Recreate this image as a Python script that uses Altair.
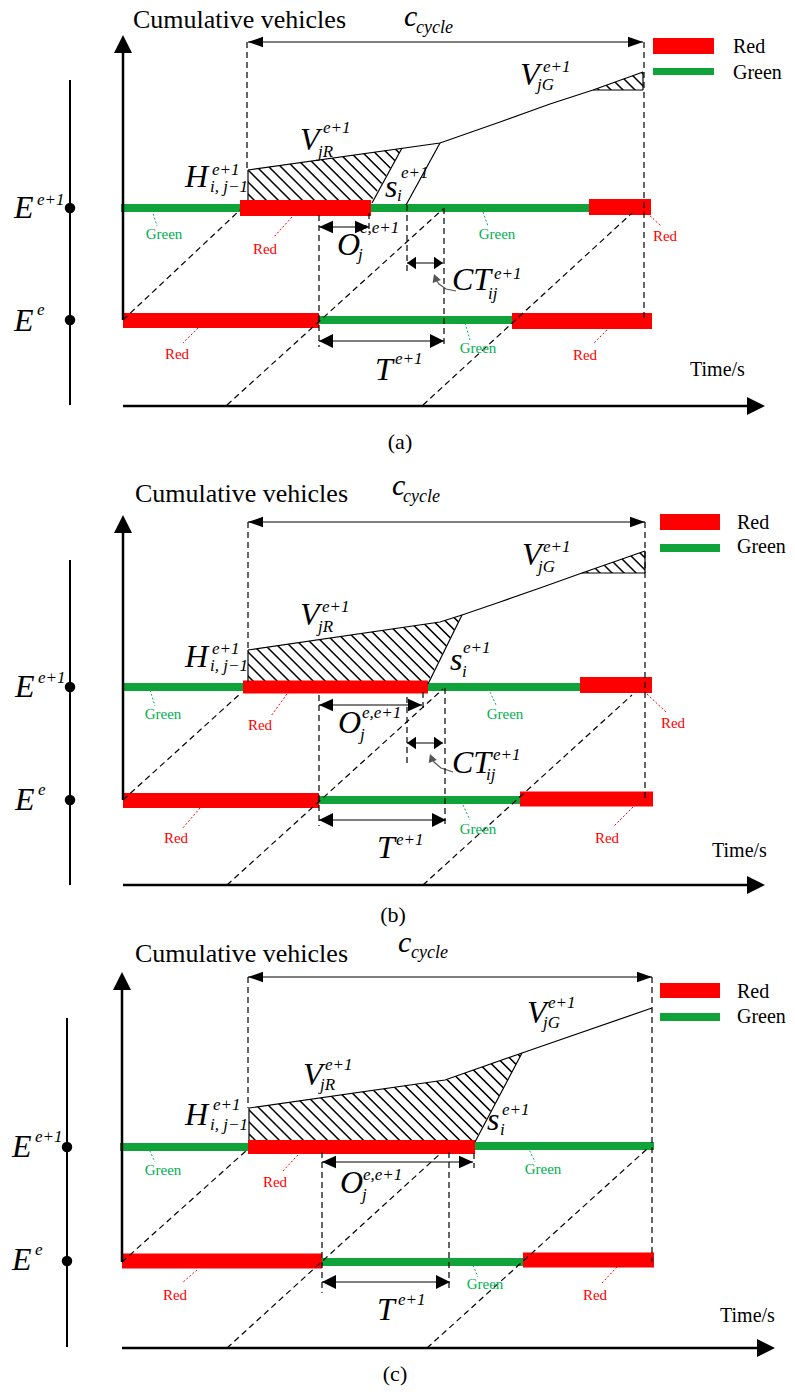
import altair as alt
import pandas as pd

RED = "#FF0000"
GBAR = "#0FA339"
GTXT = "#00B050"
SERIF = "Liberation Serif"

# ---------------- signal bars: (x_start, x_end, y_center, thickness, colour) -------------
BARS_A = [(121, 240, 208, 8, GBAR), (240, 371, 208, 16, RED), (371, 589, 208, 8, GBAR),
          (589, 651, 207, 16, RED), (123, 319, 320.5, 15, RED), (319, 512, 320, 8, GBAR),
          (512, 652, 321, 16, RED)]
BARS_B = [(123, 243, 687, 8, GBAR), (243, 428, 687, 13, RED), (428, 580, 687, 8, GBAR),
          (580, 652, 685, 16, RED), (123, 319, 800.5, 15, RED), (319, 520, 800, 8, GBAR),
          (520, 653, 799, 15, RED)]
BARS_C = [(120, 248, 1147, 8, GBAR), (248, 475, 1147, 14, RED), (475, 654, 1146, 8, GBAR),
          (122, 322, 1261, 15, RED), (322, 523, 1262, 8, GBAR), (523, 654, 1260, 15, RED)]
LEGEND_BARS = [(653, 714, 46, 16, RED), (653, 714, 71.5, 7, GBAR),
               (660, 720, 522, 16, RED), (660, 720, 548, 8, GBAR),
               (660, 720, 990.5, 15, RED), (660, 720, 1017, 8, GBAR)]

# ---------------- solid segments: (x1, y1, x2, y2, width) ----------------
SOLID_A = [(123, 320, 123, 45, 2.5), (123, 406, 755, 406, 2.5), (70, 80, 70, 405, 2),
           (248, 42, 643, 42, 1.2), (319, 227, 369, 227, 1.2), (407, 263, 443, 263, 1.2),
           (319, 341, 444, 341, 1.2), (248, 170, 248, 200, 1.2), (402, 148, 372, 203, 1.2),
           (440, 143, 406, 205, 1.2), (593, 90, 643, 90, 1.2), (643, 72, 643, 90, 1.2)]
SOLID_B = [(123, 800, 123, 525, 2.5), (123, 885, 755, 885, 2.5), (70, 560, 70, 885, 2),
           (248, 522, 645, 522, 1.2), (319, 705, 422, 705, 1.2), (407, 743, 443, 743, 1.2),
           (319, 820, 446, 820, 1.2), (248, 650, 248, 682, 1.2), (462, 615, 428, 684, 1.2),
           (582, 573, 645, 573, 1.2), (645, 551, 645, 573, 1.2)]
SOLID_C = [(122, 1262, 122, 982, 2.5), (122, 1348, 765, 1348, 2.5), (67, 1018, 67, 1347, 2),
           (248, 977, 652, 977, 1.2), (322, 1162, 473, 1162, 1.2), (322, 1282, 450, 1282, 1.2),
           (249, 1108, 249, 1140, 1.2), (522, 1053, 475, 1142, 1.2)]

# ---------------- dashed black segments ----------------
DASH_A = [(247, 42, 247, 170), (644, 42, 644, 320), (319, 215, 319, 347), (369, 213, 369, 232),
          (407, 205, 407, 275), (444, 208, 444, 347), (123, 320, 240, 210),
          (227, 405, 443, 209), (423, 405, 632, 213)]
DASH_B = [(248, 522, 248, 650), (645, 522, 645, 800), (319, 695, 319, 826), (423, 692, 423, 712),
          (407, 697, 407, 765), (445, 688, 445, 826), (123, 800, 241, 693),
          (227, 885, 443, 689), (423, 885, 632, 695)]
DASH_C = [(248, 977, 248, 1108), (652, 977, 652, 1262), (322, 1152, 322, 1293),
          (474, 1153, 474, 1168), (449, 1152, 449, 1292), (122, 1262, 247, 1150),
          (227, 1348, 441, 1153), (427, 1348, 647, 1149)]

# ---------------- coloured leader lines (x1, y1, x2, y2, colour) ----------------
LEADERS = [(152, 210, 157, 226, GTXT), (292, 217, 273, 238, RED), (483, 212, 488, 226, GTXT),
           (647, 213, 661, 226, RED), (198, 328, 183, 343, RED), (465, 323, 470, 340, GTXT),
           (607, 330, 593, 344, RED),
           (150, 690, 155, 706, GTXT), (287, 694, 271, 716, RED), (490, 692, 496, 705, GTXT),
           (647, 694, 667, 713, RED), (200, 808, 182, 829, RED), (463, 805, 470, 820, GTXT),
           (633, 807, 613, 827, RED),
           (148, 1147, 155, 1162, GTXT), (298, 1155, 282, 1172, RED), (528, 1147, 535, 1162, GTXT),
           (197, 1270, 182, 1283, RED), (470, 1258, 478, 1277, GTXT), (617, 1267, 602, 1283, RED)]

# ---------------- cumulative curves (polylines) ----------------
CURVE_A = [(248, 170), (440, 143), (500, 122), (550, 104), (593, 90), (643, 72)]
CURVE_B = [(248, 650), (440, 622), (462, 615), (500, 602), (540, 588), (582, 573), (645, 551)]
CURVE_C = [(249, 1108), (445, 1080), (522, 1053), (652, 1008)]
GRAY_A = [(456, 291), (446, 289), (439, 284), (435, 278)]
GRAY_B = [(453, 772), (441, 768), (434, 762), (431, 757)]

# ---------------- hatched regions: (x, y_top, y_bottom) ----------------
HATCH_A1 = [(248, 170, 200), (372, 152.6, 200), (402, 148.3, 148.3)]
HATCH_A2 = [(593, 90, 90), (643, 72, 90)]
HATCH_B1 = [(248, 650, 682), (428, 623.8, 682), (440, 622, 658.4), (462, 615, 615)]
HATCH_B2 = [(582, 573, 573), (645, 551, 573)]
HATCH_C1 = [(249, 1108, 1140), (445, 1080, 1140), (475, 1069.5, 1140), (522, 1053, 1053)]

# ---------------- arrow heads: (tip_x, tip_y, angle, length, width_ratio, colour) ---------
HEADS = [(123, 35, 270, 18, 1.0, "black"), (765, 406, 0, 18, 1.0, "black"),
         (248, 42, 180, 15, 0.7, "black"), (643, 42, 0, 15, 0.7, "black"),
         (319, 227, 180, 14, 0.9, "black"), (369, 227, 0, 14, 0.9, "black"),
         (407, 263, 180, 9, 1.4, "black"), (443, 263, 0, 9, 1.4, "black"),
         (319, 341, 180, 14, 1.0, "black"), (444, 341, 0, 14, 1.0, "black"),
         (434, 274, 250, 8, 1.1, "#555555"),
         (123, 515, 270, 18, 1.0, "black"), (765, 885, 0, 18, 1.0, "black"),
         (248, 522, 180, 15, 0.7, "black"), (645, 522, 0, 15, 0.7, "black"),
         (319, 705, 180, 14, 0.9, "black"), (422, 705, 0, 14, 0.9, "black"),
         (407, 743, 180, 9, 1.4, "black"), (443, 743, 0, 9, 1.4, "black"),
         (319, 820, 180, 14, 1.0, "black"), (446, 820, 0, 14, 1.0, "black"),
         (430, 754, 250, 8, 1.1, "#555555"),
         (122, 972, 270, 18, 1.0, "black"), (775, 1348, 0, 18, 1.0, "black"),
         (248, 977, 180, 15, 0.7, "black"), (652, 977, 0, 15, 0.7, "black"),
         (322, 1162, 180, 14, 0.9, "black"), (473, 1162, 0, 14, 0.9, "black"),
         (322, 1282, 180, 14, 1.0, "black"), (450, 1282, 0, 14, 1.0, "black")]

DOTS = [(70, 208), (70, 320), (70, 687), (70, 800), (67, 1147), (67, 1261)]

# ---------------- texts ----------------
# upright, left aligned: (text, x, baseline, size)
TEXT_UP = [("Cumulative vehicles", 133, 28, 26), ("Cumulative vehicles", 135, 502, 26),
           ("Cumulative vehicles", 135, 962, 26),
           ("Red", 733, 53, 20), ("Green", 733, 79, 20), ("Red", 737, 529, 20),
           ("Green", 737, 553, 20), ("Red", 737, 998, 20), ("Green", 737, 1023, 20),
           ("Time/s", 690, 376, 20), ("Time/s", 712, 857, 20), ("Time/s", 720, 1322, 20)]
# upright, centred: (text, x, baseline, size, colour)
TEXT_CENTER = [("(a)", 400, 449, 22, "black"), ("(b)", 393, 922, 22, "black"),
               ("(c)", 395, 1381, 22, "black"),
               ("Green", 164, 239, 15, GTXT), ("Red", 265, 254, 15, RED),
               ("Green", 497, 239, 15, GTXT), ("Red", 665, 241, 15, RED),
               ("Red", 177, 359, 15, RED), ("Green", 478, 353, 15, GTXT), ("Red", 585, 360, 15, RED),
               ("Green", 163, 719, 15, GTXT), ("Red", 260, 730, 15, RED),
               ("Green", 505, 719, 15, GTXT), ("Red", 673, 728, 15, RED),
               ("Red", 176, 843, 15, RED), ("Green", 478, 834, 15, GTXT), ("Red", 607, 843, 15, RED),
               ("Green", 163, 1175, 15, GTXT), ("Red", 275, 1187, 15, RED),
               ("Green", 543, 1174, 15, GTXT), ("Red", 175, 1300, 15, RED),
               ("Green", 485, 1289, 15, GTXT), ("Red", 595, 1300, 15, RED)]
# italic math pieces: (text, x, baseline, size)
BIG = 32
SM = 17
MATH_A = [("E", 14, 218, BIG), ("e+1", 37, 205, SM), ("E", 14, 331, BIG), ("e", 37, 315, SM),
          ("H", 185, 187, BIG), ("e+1", 212, 175, SM), ("i, j\u22121", 210, 192, SM),
          ("V", 300, 150, BIG), ("e+1", 323, 133, SM), ("jR", 318, 157, SM),
          ("s", 385, 197, BIG), ("e+1", 401, 178, SM), ("i", 397, 201, SM),
          ("V", 520, 85, BIG), ("e+1", 543, 72, SM), ("jG", 537, 90, SM),
          ("O", 337, 255, BIG), ("e,e+1", 360, 233, SM), ("j", 358, 260, SM),
          ("CT", 452, 290, BIG), ("e+1", 494, 279, SM), ("ij", 488, 299, SM),
          ("T", 375, 380, BIG), ("e+1", 395, 364, SM),
          ("c", 404, 26, 30), ("cycle", 416, 33, 18)]
MATH_B = [("E", 15, 697, BIG), ("e+1", 38, 683, SM), ("E", 15, 810, BIG), ("e", 38, 795, SM),
          ("H", 185, 667, BIG), ("e+1", 212, 654, SM), ("i, j\u22121", 210, 671, SM),
          ("V", 300, 625, BIG), ("e+1", 322, 612, SM), ("jR", 318, 632, SM),
          ("s", 450, 670, BIG), ("e+1", 463, 653, SM), ("i", 462, 677, SM),
          ("V", 522, 565, BIG), ("e+1", 543, 552, SM), ("jG", 538, 572, SM),
          ("O", 338, 733, BIG), ("e,e+1", 362, 718, SM), ("j", 360, 740, SM),
          ("CT", 452, 773, BIG), ("e+1", 493, 760, SM), ("ij", 486, 780, SM),
          ("T", 377, 858, BIG), ("e+1", 396, 845, SM),
          ("c", 392, 495, 30), ("cycle", 403, 502, 18)]
MATH_C = [("E", 12, 1157, BIG), ("e+1", 35, 1142, SM), ("E", 12, 1270, BIG), ("e", 35, 1255, SM),
          ("H", 185, 1125, BIG), ("e+1", 213, 1110, SM), ("i, j\u22121", 210, 1130, SM),
          ("V", 303, 1085, BIG), ("e+1", 325, 1070, SM), ("jR", 320, 1090, SM),
          ("s", 487, 1130, BIG), ("e+1", 502, 1115, SM), ("i", 500, 1135, SM),
          ("V", 527, 1023, BIG), ("e+1", 548, 1008, SM), ("jG", 543, 1028, SM),
          ("O", 340, 1193, BIG), ("e,e+1", 363, 1180, SM), ("j", 362, 1200, SM),
          ("T", 377, 1320, BIG), ("e+1", 398, 1305, SM),
          ("c", 398, 952, 30), ("cycle", 411, 958, 18)]

# ======================= build chart =======================
xs = alt.Scale(domain=[8, 787], nice=False, zero=False)
ys = alt.Scale(domain=[8, 1387], nice=False, zero=False, reverse=True)


def X(f="x"):
    return alt.X(f"{f}:Q", scale=xs, axis=None)


def Y(f="y"):
    return alt.Y(f"{f}:Q", scale=ys, axis=None)


layers = []


def hatch_gradient(pts, spacing=8.5):
    xv = [p[0] for p in pts]
    yv = [p[1] for p in pts] + [p[2] for p in pts]
    W = max(xv) - min(xv)
    H = max(yv) - min(yv)
    s = (W + H) / (W * W + H * H)
    D = (W + H) / 2 ** 0.5
    stops = [(0.0, "white")]
    k = 0
    while True:
        c = (k + 0.5) * spacing / D
        if c - 1.2 / D >= 1:
            break
        for off, col in [(c - 1.2 / D, "white"), (c - 0.3 / D, "black"),
                         (c + 0.3 / D, "black"), (c + 1.2 / D, "white")]:
            if 0 < off < 1 and off > stops[-1][0]:
                stops.append((off, col))
        k += 1
    stops.append((1.0, "white"))
    return alt.LinearGradient(
        gradient="linear",
        stops=[alt.GradientStop(offset=o, color=c) for o, c in stops],
        x1=0, y1=1, x2=s * W, y2=1 - s * H)


for poly in [HATCH_A1, HATCH_A2, HATCH_B1, HATCH_B2, HATCH_C1]:
    df = pd.DataFrame(poly, columns=["x", "yt", "yb"])
    layers.append(alt.Chart(df).mark_area(fill=hatch_gradient(poly), opacity=1, strokeWidth=0)
                  .encode(x=X(), y=Y("yt"), y2=alt.Y2("yb")))

# signal bars
bar_rows = []
for x1, x2, yc, t, c in BARS_A + BARS_B + BARS_C + LEGEND_BARS:
    bar_rows.append({"x": x1, "x2": x2, "y": yc - t / 2, "y2": yc + t / 2, "c": c})
layers.append(alt.Chart(pd.DataFrame(bar_rows)).mark_rect()
              .encode(x=X(), x2=alt.X2("x2"), y=Y(), y2=alt.Y2("y2"),
                      color=alt.Color("c:N", scale=None)))

# curves
crv = []
for i, pts in enumerate([CURVE_A, CURVE_B, CURVE_C]):
    for j, (x, y) in enumerate(pts):
        crv.append({"x": x, "y": y, "id": i, "o": j})
layers.append(alt.Chart(pd.DataFrame(crv)).mark_line(color="black", strokeWidth=1.2)
              .encode(x=X(), y=Y(), detail="id:N", order="o:Q"))
gry = []
for i, pts in enumerate([GRAY_A, GRAY_B]):
    for j, (x, y) in enumerate(pts):
        gry.append({"x": x, "y": y, "id": i, "o": j})
layers.append(alt.Chart(pd.DataFrame(gry)).mark_line(color="#555555", strokeWidth=1.2)
              .encode(x=X(), y=Y(), detail="id:N", order="o:Q"))

# solid segments
sol = pd.DataFrame(SOLID_A + SOLID_B + SOLID_C, columns=["x", "y", "x2", "y2", "w"])
layers.append(alt.Chart(sol).mark_rule(color="black", strokeCap="butt")
              .encode(x=X(), y=Y(), x2=alt.X2("x2"), y2=alt.Y2("y2"),
                      strokeWidth=alt.StrokeWidth("w:Q", scale=None)))

# dashed segments
dsh = pd.DataFrame(DASH_A + DASH_B + DASH_C, columns=["x", "y", "x2", "y2"])
layers.append(alt.Chart(dsh).mark_rule(color="black", strokeWidth=1.2, strokeDash=[6, 4])
              .encode(x=X(), y=Y(), x2=alt.X2("x2"), y2=alt.Y2("y2")))

# leaders
ldr = pd.DataFrame(LEADERS, columns=["x", "y", "x2", "y2", "c"])
layers.append(alt.Chart(ldr).mark_rule(strokeWidth=1, strokeDash=[2, 2])
              .encode(x=X(), y=Y(), x2=alt.X2("x2"), y2=alt.Y2("y2"),
                      color=alt.Color("c:N", scale=None)))

# arrow heads
hd = []
for x, y, a, L, r, c in HEADS:
    hd.append({"x": x, "y": y, "a": a, "sz": L * L, "c": c,
               "shp": f"M0,0L-2,-{r}L-2,{r}Z"})
layers.append(alt.Chart(pd.DataFrame(hd)).mark_point(filled=True, opacity=1, strokeWidth=0)
              .encode(x=X(), y=Y(), angle=alt.Angle("a:Q", scale=None),
                      size=alt.Size("sz:Q", scale=None), shape=alt.Shape("shp:N", scale=None),
                      color=alt.Color("c:N", scale=None)))

# dots
layers.append(alt.Chart(pd.DataFrame(DOTS, columns=["x", "y"]))
              .mark_point(shape="circle", filled=True, size=110, color="black", opacity=1)
              .encode(x=X(), y=Y()))

# texts
tu = pd.DataFrame(TEXT_UP, columns=["t", "x", "y", "s"])
layers.append(alt.Chart(tu).mark_text(font=SERIF, align="left", baseline="alphabetic", color="black")
              .encode(x=X(), y=Y(), text="t:N", size=alt.Size("s:Q", scale=None)))
tc = pd.DataFrame(TEXT_CENTER, columns=["t", "x", "y", "s", "c"])
layers.append(alt.Chart(tc).mark_text(font=SERIF, align="center", baseline="alphabetic")
              .encode(x=X(), y=Y(), text="t:N", size=alt.Size("s:Q", scale=None),
                      color=alt.Color("c:N", scale=None)))
tm = pd.DataFrame(MATH_A + MATH_B + MATH_C, columns=["t", "x", "y", "s"])
layers.append(alt.Chart(tm).mark_text(font=SERIF, fontStyle="italic", align="left",
                                      baseline="alphabetic", color="black")
              .encode(x=X(), y=Y(), text="t:N", size=alt.Size("s:Q", scale=None)))

chart = (alt.layer(*layers)
         .properties(width=779, height=1379, padding=0,
                     autosize=alt.AutoSizeParams(type="none"), background="white")
         .configure_view(stroke=None))

chart.save("out.html", embed_options={"renderer": "svg", "actions": False})
